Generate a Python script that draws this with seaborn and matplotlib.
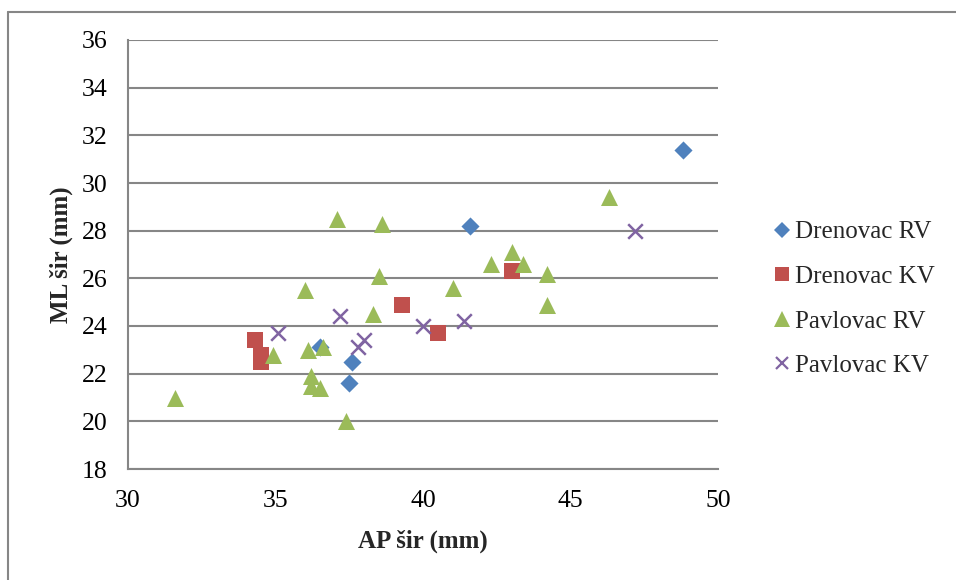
import matplotlib
matplotlib.use("Agg")
import matplotlib.pyplot as plt
import seaborn as sns
import pandas as pd
from matplotlib.lines import Line2D

# Data
dren_rv_x = [36.5, 37.5, 37.6, 41.6, 48.8]
dren_rv_y = [23.1, 21.6, 22.5, 28.2, 31.4]

dren_kv_x = [34.3, 34.5, 34.5, 39.3, 40.5, 43.0]
dren_kv_y = [23.4, 22.8, 22.5, 24.9, 23.7, 26.3]

pav_rv_x = [31.6, 34.9, 36.0, 36.1, 36.2, 36.2, 36.5, 36.6, 37.1, 37.4,
            38.3, 38.5, 38.6, 41.0, 42.3, 43.0, 43.4, 44.2, 44.2, 46.3]
pav_rv_y = [21.0, 22.8, 25.5, 23.0, 21.9, 21.5, 21.4, 23.1, 28.5, 20.0,
            24.5, 26.1, 28.3, 25.6, 26.6, 27.1, 26.6, 26.2, 24.9, 29.4]

pav_kv_x = [35.1, 37.2, 37.8, 38.0, 40.0, 41.4, 47.2]
pav_kv_y = [23.7, 24.4, 23.1, 23.4, 24.0, 24.2, 28.0]

series_names = ["Drenovac RV", "Drenovac KV", "Pavlovac RV", "Pavlovac KV"]
x_ticks = [30, 35, 40, 45, 50]
y_ticks = [18, 20, 22, 24, 26, 28, 30, 32, 34, 36]

frames = []
for name, xs, ys in zip(series_names,
                        [dren_rv_x, dren_kv_x, pav_rv_x, pav_kv_x],
                        [dren_rv_y, dren_kv_y, pav_rv_y, pav_kv_y]):
    frames.append(pd.DataFrame({"AP": xs, "ML": ys, "series": name}))
df = pd.concat(frames, ignore_index=True)

sns.set_style("white")
plt.rcParams["font.family"] = ["Liberation Serif", "DejaVu Serif"]

colors = {"Drenovac RV": "#4F81BD", "Drenovac KV": "#C0504D",
          "Pavlovac RV": "#9BBB59", "Pavlovac KV": "#8064A2"}
markers = {"Drenovac RV": "D", "Drenovac KV": "s",
           "Pavlovac RV": "^", "Pavlovac KV": "x"}
sizes = {"Drenovac RV": 85, "Drenovac KV": 120,
         "Pavlovac RV": 150, "Pavlovac KV": 110}

fig = plt.figure(figsize=(9.56, 5.8), dpi=100)
ax = fig.add_axes([128 / 956, 1 - 469 / 580, (718 - 128) / 956, (469 - 40) / 580])

for name in series_names:
    sub = df[df["series"] == name]
    kw = dict(linewidth=0) if markers[name] != "x" else dict(linewidth=1.8)
    sns.scatterplot(data=sub, x="AP", y="ML", ax=ax, color=colors[name],
                    marker=markers[name], s=sizes[name], zorder=3,
                    legend=False, **kw)

ax.set_xlim(30, 50)
ax.set_ylim(18, 36)
ax.set_xticks(x_ticks)
ax.set_yticks(y_ticks)
ax.set_xticklabels([str(t) for t in x_ticks])
ax.set_yticklabels([str(t) for t in y_ticks])
ax.tick_params(axis="both", length=0, labelsize=18.5, colors="black")
ax.tick_params(axis="y", pad=15)
ax.tick_params(axis="x", pad=15)

ax.grid(axis="y", color="#868686", linewidth=1.5)
ax.grid(axis="x", visible=False)
for side in ["top", "right"]:
    ax.spines[side].set_visible(False)
for side in ["left", "bottom"]:
    ax.spines[side].set_color("#868686")
    ax.spines[side].set_linewidth(1.5)

ax.set_xlabel("AP šir (mm)", fontsize=18, fontweight="bold", labelpad=13)
ax.set_ylabel("ML šir (mm)", fontsize=18, fontweight="bold", labelpad=6)

handles = []
for name in series_names:
    m = markers[name]
    if m == "x":
        h = Line2D([], [], linestyle="none", marker="x", color=colors[name],
                   markersize=9, markeredgewidth=1.6)
    else:
        ms = {"D": 8, "s": 10, "^": 11}[m]
        h = Line2D([], [], linestyle="none", marker=m, color=colors[name],
                   markersize=ms, markeredgewidth=0)
    handles.append(h)

fig.legend(handles, series_names, loc="center left",
           bbox_to_anchor=(774 / 956, 1 - 299 / 580), frameon=False,
           fontsize=18, handlelength=0.6, handletextpad=0.25,
           labelspacing=0.88, borderpad=0, borderaxespad=0)

# outer chart border
fig.add_artist(Line2D([8 / 956, 8 / 956], [0, 1 - 11.5 / 580],
                      transform=fig.transFigure, color="#868686", linewidth=1.5))
fig.add_artist(Line2D([8 / 956, 1], [1 - 11.5 / 580, 1 - 11.5 / 580],
                      transform=fig.transFigure, color="#868686", linewidth=1.5))

fig.savefig("out.png", dpi=100, facecolor="white")
